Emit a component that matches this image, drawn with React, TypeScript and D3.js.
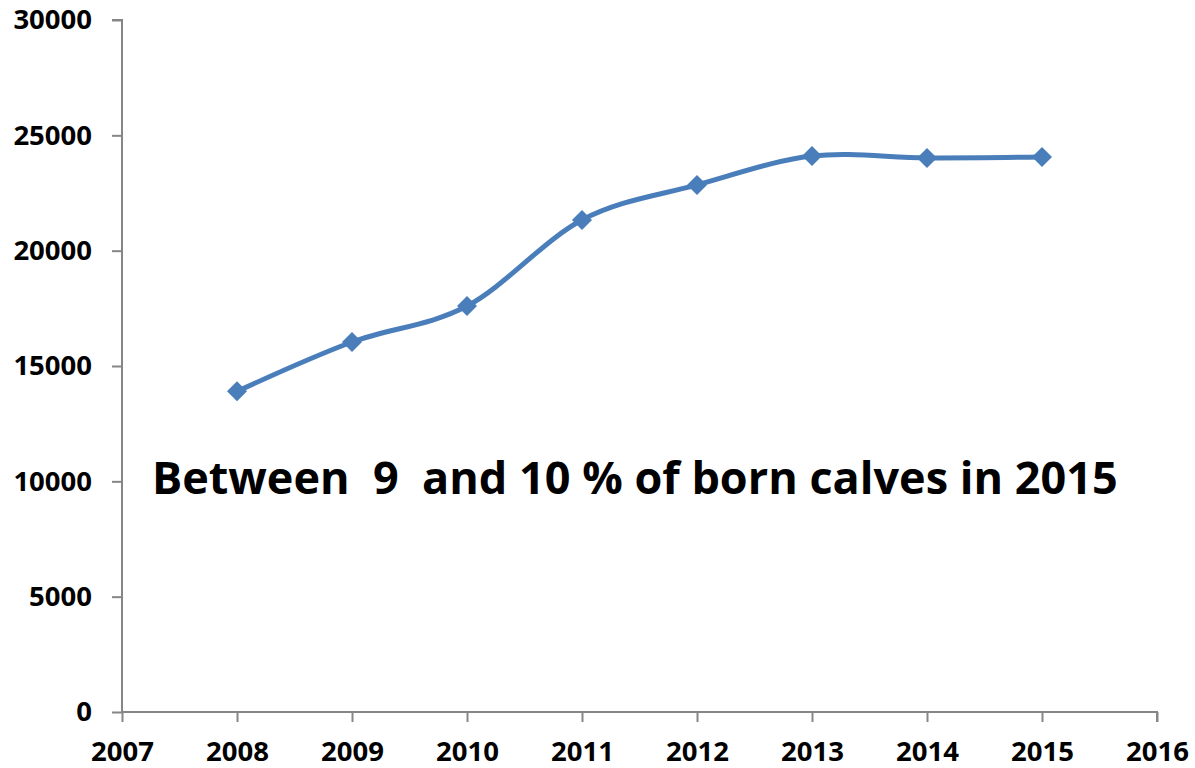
import React, { useEffect, useRef } from "react";
import * as d3 from "d3";

const years = [2008, 2009, 2010, 2011, 2012, 2013, 2014, 2015];
const calves = [13900, 16040, 17600, 21330, 22850, 24100, 24020, 24060];
const xTicks = [2007, 2008, 2009, 2010, 2011, 2012, 2013, 2014, 2015, 2016];
const yTicks = [0, 5000, 10000, 15000, 20000, 25000, 30000];
const note = "Between  9  and 10 % of born calves in 2015";

const width = 1195;
const height = 768;
const font = "'Open Sans', 'Liberation Sans', sans-serif";

export default function App() {
  const svgRef = useRef<SVGSVGElement>(null);

  useEffect(() => {
    if (!svgRef.current) return;
    const svg = d3.select(svgRef.current);
    svg.selectAll("*").remove();

    const x = d3.scaleLinear().domain([2007, 2016]).range([122, 1157]);
    const y = d3.scaleLinear().domain([0, 30000]).range([712, 20]);

    const axisColor = "#868686";

    // y axis
    const yAxis = svg
      .append("g")
      .attr("transform", `translate(${x(2007)},0)`)
      .call(
        d3
          .axisLeft(y)
          .tickValues(yTicks)
          .tickSize(10)
          .tickPadding(20)
          .tickFormat((d) => String(d)),
      );

    // x axis
    const xAxis = svg
      .append("g")
      .attr("transform", `translate(0,${y(0)})`)
      .call(
        d3
          .axisBottom(x)
          .tickValues(xTicks)
          .tickSize(10)
          .tickPadding(19)
          .tickFormat((d) => String(d)),
      );

    [yAxis, xAxis].forEach((a) => {
      a.select(".domain").attr("stroke", axisColor).attr("stroke-width", 2);
      a.selectAll(".tick line").attr("stroke", axisColor).attr("stroke-width", 2);
      a.selectAll("text")
        .attr("fill", "#000")
        .style("font-family", font)
        .style("font-weight", "bold")
        .style("font-size", "27.5px");
    });
    // domain lines flush with the outer ticks
    yAxis.select(".domain").attr("d", `M-10,${y(30000)}H0V${y(0)}`);
    xAxis.select(".domain").attr("d", `M${x(2007)},0H${x(2016)}V10`);

    const pts = years.map((yr, i) => [yr, calves[i]] as [number, number]);

    const line = d3
      .line<[number, number]>()
      .x((d) => x(d[0]))
      .y((d) => y(d[1]))
      .curve(d3.curveCatmullRom.alpha(0));

    svg
      .append("path")
      .datum(pts)
      .attr("fill", "none")
      .attr("stroke", "#4a7ebb")
      .attr("stroke-width", 5)
      .attr("d", line);

    const sym = d3.symbol().type(d3.symbolDiamond2).size(255);
    svg
      .append("g")
      .selectAll("path")
      .data(pts)
      .join("path")
      .attr("transform", (d) => `translate(${x(d[0])},${y(d[1])})`)
      .attr("d", sym)
      .attr("fill", "#4a7ebb");

    svg
      .append("text")
      .attr("x", 152)
      .attr("y", 494)
      .attr("fill", "#000")
      .style("font-family", font)
      .style("font-weight", "bold")
      .style("font-size", "45px")
      .style("white-space", "pre")
      .attr("xml:space", "preserve")
      .text(note);
  }, []);

  return (
    <svg
      ref={svgRef}
      width={width}
      height={height}
      style={{ position: "absolute", left: 0, top: 0, background: "#fff" }}
    />
  );
}
